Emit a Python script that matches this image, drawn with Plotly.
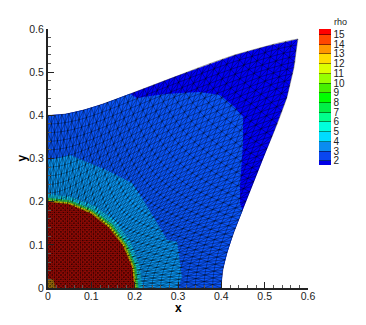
import numpy as np
import plotly.graph_objects as go

# Domain outline, from (0.4, 0) round to (0, 0.4)
right_x = [0.400, 0.403, 0.414, 0.429, 0.449, 0.471, 0.494, 0.523, 0.551, 0.567, 0.576]
right_y = [0.000, 0.040, 0.083, 0.129, 0.179, 0.235, 0.296, 0.366, 0.441, 0.510, 0.576]
top_x = [0.504, 0.432, 0.361, 0.294, 0.234, 0.178, 0.128, 0.083, 0.040, 0.000]
top_y = [0.560, 0.540, 0.515, 0.490, 0.467, 0.446, 0.427, 0.413, 0.403, 0.400]

# Contour bands
rho3_x = [0.189, 0.205, 0.260, 0.305, 0.351, 0.397, 0.430, 0.450, 0.450, 0.443, 0.443, 0.449]
rho3_y = [0.450, 0.440, 0.448, 0.452, 0.454, 0.447, 0.420, 0.396, 0.336, 0.234, 0.197, 0.179]
rho4_x = [0.000, 0.051, 0.090, 0.136, 0.194, 0.220, 0.240, 0.275, 0.298, 0.309, 0.300]
rho4_y = [0.296, 0.308, 0.292, 0.273, 0.243, 0.204, 0.170, 0.111, 0.107, 0.025, 0.000]
rho5_x = [0.000, 0.053, 0.107, 0.155, 0.190, 0.211, 0.218]
rho5_y = [0.218, 0.211, 0.190, 0.155, 0.107, 0.053, 0.000]
rho7_x = [0.000, 0.051, 0.102, 0.148, 0.182, 0.203, 0.209]
rho7_y = [0.209, 0.203, 0.182, 0.148, 0.102, 0.051, 0.000]
rho12_x = [0.000, 0.050, 0.100, 0.144, 0.178, 0.198, 0.204]
rho12_y = [0.204, 0.198, 0.178, 0.144, 0.100, 0.050, 0.000]
core_x = [0.000, 0.049, 0.098, 0.140, 0.173, 0.194, 0.200]
core_y = [0.200, 0.194, 0.173, 0.140, 0.098, 0.049, 0.000]
spot_x = [0.000, 0.018, 0.012, 0.000]
spot_y = [0.000, 0.000, 0.020, 0.022]

# Colour bar
levels = list(range(2, 16))
level_colors = ["#0000e6", "#0a46f0", "#0a8cf0", "#00dcff", "#00ffdc", "#00ff8c", "#00f046", "#00ff00",
                "#46f000", "#96ff00", "#dcff00", "#ffdc00", "#ff9600", "#ff4600", "#ff0000"]
region_colors = {"base": "#0000f5", "rho3": "#0a55fa", "rho4": "#0a96f5", "rho5": "#10c8f0",
                 "rho7": "#30e060", "rho12": "#d8d000", "core": "#c80f08", "spot": "#d09010"}

# Mesh: cell count of the underlying lattice and the radial stretch estimated from the outline
n_cells = 50
shock_lagrange = 0.8
shift = 0.6
core_ratio = 4.0
bulge_rho = [1.0, 1.05, 1.17, 1.235, 1.28, 1.355, 1.414]
bulge_dr = [0.0, 0.004, 0.010, 0.020, 0.025, 0.017, 0.002]
bulge_top_weight = 0.45

outline_x = right_x + top_x
outline_y = right_y + top_y

fig = go.Figure()
fig.add_trace(go.Scatter(x=[0] + outline_x + [0], y=[0] + outline_y + [0], fill="toself",
                         fillcolor=region_colors["base"], mode="lines", line_width=0, hoverinfo="skip"))
r3x = [0] + right_x[:5] + rho3_x[::-1] + top_x[-4:] + [0]
r3y = [0] + right_y[:5] + rho3_y[::-1] + top_y[-4:] + [0]
fig.add_trace(go.Scatter(x=r3x, y=r3y, fill="toself", fillcolor=region_colors["rho3"], mode="lines",
                         line_width=0, hoverinfo="skip"))
for key, bx, by in [("rho4", rho4_x, rho4_y), ("rho5", rho5_x, rho5_y), ("rho7", rho7_x, rho7_y),
                    ("rho12", rho12_x, rho12_y), ("core", core_x, core_y), ("spot", spot_x, spot_y)]:
    fig.add_trace(go.Scatter(x=[0] + bx + [0], y=[0] + by + [0], fill="toself",
                             fillcolor=region_colors[key], mode="lines", line_width=0, hoverinfo="skip"))


def node(i, j):
    u, v = i / n_cells, j / n_cells
    rho = np.hypot(u, v)
    if rho == 0:
        return 0.0, 0.0
    if rho <= shock_lagrange:
        r = rho / core_ratio
    else:
        w = bulge_top_weight + (1 - bulge_top_weight) * min(max((u - v) * 5 + 0.5, 0.0), 1.0)
        r = rho - shift + w * float(np.interp(rho, bulge_rho, bulge_dr, left=0.0))
    return u / rho * r, v / rho * r


mx, my = [], []


def seg(a, b):
    mx.extend([a[0], b[0], None])
    my.extend([a[1], b[1], None])


for i in range(n_cells + 1):
    for j in range(n_cells + 1):
        if i < n_cells:
            seg(node(i, j), node(i + 1, j))
        if j < n_cells:
            seg(node(i, j), node(i, j + 1))
        if i < n_cells and j < n_cells:
            if (i + j) % 2 == 0:
                seg(node(i, j), node(i + 1, j + 1))
            else:
                seg(node(i + 1, j), node(i, j + 1))
fig.add_trace(go.Scatter(x=mx, y=my, mode="lines", line=dict(color="rgba(0,0,0,0.75)", width=0.5),
                         hoverinfo="skip"))

# Colour bar trace
cmin, cmax = 1.6, 15.6
edges = [cmin] + levels + [cmax]
scale = []
for k, col in enumerate(level_colors):
    scale += [[(edges[k] - cmin) / (cmax - cmin), col], [(edges[k + 1] - cmin) / (cmax - cmin), col]]
fig.add_trace(go.Scatter(
    x=[None], y=[None], mode="markers",
    marker=dict(color=[2], cmin=cmin, cmax=cmax, colorscale=scale, showscale=True,
                colorbar=dict(thickness=12, thicknessmode="pixels", len=136, lenmode="pixels",
                              x=319 / 366, xanchor="left", xpad=0, y=1 - 36 / 325, yanchor="top", ypad=0,
                              yref="container", xref="container",
                              tickmode="array", tickvals=levels, ticktext=[str(v) for v in levels],
                              tickprefix="\u00a0", ticks="inside", ticklen=12, tickwidth=0.5,
                              tickcolor="rgba(0,0,0,0.45)", outlinewidth=0,
                              tickfont=dict(family="Liberation Sans", size=10, color="#222")))))

axis = dict(range=[0, 0.6], dtick=0.1, tick0=0, showgrid=False, zeroline=False, showline=True, linecolor="#222",
            linewidth=2, ticks="inside", ticklen=6, tickwidth=1, tickcolor="#222",
            tickfont=dict(family="Liberation Sans", size=10.5, color="#222"),
            minor=dict(dtick=0.02, tick0=0, ticks="inside", ticklen=3, tickwidth=1, tickcolor="#555", showgrid=False),
            tickformat="~g")
notes = [dict(text="<b>x</b>", xref="paper", yref="paper", x=0.5, y=-20 / 259, xanchor="center", yanchor="middle",
              showarrow=False, font=dict(family="Liberation Sans", size=12, color="black")),
         dict(text="<b>y</b>", xref="paper", yref="paper", x=-27 / 260, y=0.5, xanchor="center", yanchor="middle",
              textangle=-90, showarrow=False, font=dict(family="Liberation Sans", size=12, color="black")),
         dict(text="rho", xref="paper", yref="paper", x=(340 - 48) / 260, y=(288 - 22) / 259, xanchor="center",
              yanchor="middle", showarrow=False, font=dict(family="Liberation Sans", size=9, color="#222"))]
fig.update_layout(
    width=366, height=325, showlegend=False, paper_bgcolor="white", plot_bgcolor="white",
    margin=dict(l=48, r=58, t=29, b=37, autoexpand=False),
    xaxis=dict(axis, ticklabelstandoff=-3), yaxis=axis, annotations=notes,
)
fig.write_html("out.html", config={"displayModeBar": False},
               post_script="document.body.style.margin='0';")
